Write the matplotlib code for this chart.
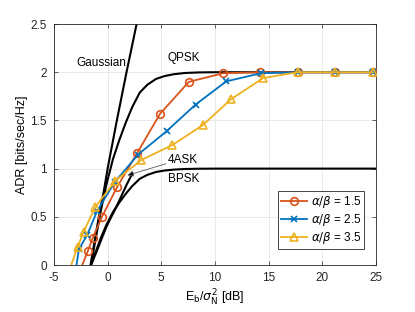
import numpy as np
import matplotlib
matplotlib.use("Agg")
import matplotlib.pyplot as plt

plt.rcParams['font.family'] = ['Liberation Sans', 'DejaVu Sans']
plt.rcParams['mathtext.fontset'] = 'dejavusans'
plt.rcParams['axes.unicode_minus'] = False

# curvas de referencia
gauss_x = [-1.59, -1.21, -0.82, -0.38, 0.0, 0.86, 1.76, 2.70, 3.68]
gauss_y = [0.0, 0.25, 0.5, 0.75, 1.0, 1.5, 2.0, 2.5, 3.0]

bpsk_x = [-1.55, -1.3, -1.0, -0.6, -0.1, 0.5, 1.1, 1.7, 2.3, 3.0, 3.7, 4.5, 5.3,
          6.2, 7.2, 8.5, 10.0, 25.0]
bpsk_y = [0.0, 0.08, 0.17, 0.29, 0.42, 0.55, 0.65, 0.74, 0.82, 0.895, 0.935, 0.965,
          0.98, 0.99, 0.996, 0.999, 1.0, 1.0]
qpsk_y = [2 * v for v in bpsk_y]

ask_x = [-1.55, -1.1, -0.6, -0.1, 0.3, 0.8, 1.3, 1.8, 2.3]
ask_y = [0.0, 0.12, 0.26, 0.40, 0.49, 0.60, 0.72, 0.84, 0.95]

# series alpha/beta (el primer punto es solo el arranque de la linea, sin marcador)
x15 = [-2.36, -1.84, -1.40, -0.53, 0.87, 2.77, 4.89, 7.57, 10.78, 14.2, 17.7, 21.2, 24.7]
y15 = [0.0, 0.145, 0.277, 0.50, 0.806, 1.165, 1.57, 1.90, 1.99, 2.0, 2.0, 2.0, 2.0]

x25 = [-2.9, -2.67, -1.91, -0.98, 0.66, 2.83, 5.51, 8.2, 11.05, 14.3, 17.7, 21.2, 24.7]
y25 = [0.0, 0.165, 0.31, 0.56, 0.86, 1.145, 1.39, 1.665, 1.905, 1.99, 2.0, 2.0, 2.0]

x35 = [-3.39, -2.78, -2.24, -1.15, 0.72, 3.15, 6.04, 8.85, 11.5, 14.5, 17.7, 21.2, 24.7]
y35 = [0.0, 0.19, 0.345, 0.60, 0.875, 1.09, 1.245, 1.45, 1.72, 1.94, 2.0, 2.0, 2.0]

etiquetas = [r'$\alpha/\beta$ = 1.5', r'$\alpha/\beta$ = 2.5', r'$\alpha/\beta$ = 3.5']
colores = ['#D95319', '#0072BD', '#EDB120']
fs = 8.5

fig = plt.figure(figsize=(4.15, 3.12), dpi=100)
ax = fig.add_axes([0.130, 0.1506, 0.776, 0.7724])

# NEGRAS PRIMERO
for xs, ys in [(gauss_x, gauss_y), (bpsk_x, qpsk_y), (bpsk_x, bpsk_y), (ask_x, ask_y)]:
    ax.plot(xs, ys, color='k', lw=1.5, zorder=2)

marcas = dict(markevery=list(range(1, 13)))
ax.plot(x15, y15, color=colores[0], lw=1.3, marker='o', ms=5.5, mfc='none', mew=1.2,
        label=etiquetas[0], zorder=3, **marcas)
ax.plot(x25, y25, color=colores[1], lw=1.3, marker='x', ms=4.5, mew=1.2,
        label=etiquetas[1], zorder=3, **marcas)
ax.plot(x35, y35, color=colores[2], lw=1.3, marker='^', ms=6, mfc='none', mew=1.2,
        label=etiquetas[2], zorder=3, **marcas)

# TEXTOS
ax.text(-2.9, 2.10, 'Gaussian', fontsize=fs, ha='left', va='center')
ax.text(5.6, 2.15, 'QPSK', fontsize=fs, ha='left', va='center')
ax.text(5.58, 1.09, '4ASK', fontsize=fs, ha='left', va='center')
ax.text(5.58, 0.89, 'BPSK', fontsize=fs, ha='left', va='center')
ax.annotate('', xy=(1.84, 0.93), xytext=(5.42, 1.05),
            arrowprops=dict(arrowstyle='-|>', ec='0.35', fc='k', lw=0.6,
                            mutation_scale=9, shrinkA=0, shrinkB=0))

ax.set_xlim(-5, 25)
ax.set_ylim(0, 2.5)
ax.set_xticks(np.arange(-5, 26, 5))
ax.set_yticks([0, 0.5, 1, 1.5, 2, 2.5])
ax.set_yticklabels(['0', '0.5', '1', '1.5', '2', '2.5'])
ax.tick_params(direction='in', top=True, right=True, labelsize=fs, length=3,
               width=0.5, colors='0.15')
ax.tick_params(axis='x', pad=5)
ax.tick_params(axis='y', pad=5)
ax.grid(True, color='0.9', lw=0.6)
ax.set_axisbelow(True)
for s in ax.spines.values():
    s.set_color('0.15')
    s.set_linewidth(0.6)

ax.set_xlabel(r'E$_\mathrm{b}$/$\sigma^2_\mathrm{N}$ [dB]', fontsize=9, labelpad=3)
ax.set_ylabel('ADR [bits/sec/Hz]', fontsize=9, labelpad=2)

leg = ax.legend(loc='lower right', bbox_to_anchor=(0.963, 0.065), fontsize=fs,
                fancybox=False, framealpha=1, edgecolor='0.15', handlelength=2.2,
                borderpad=0.25, labelspacing=0.2, handletextpad=0.3, borderaxespad=0)
leg.get_frame().set_linewidth(0.6)

fig.savefig('out.png', dpi=100)
